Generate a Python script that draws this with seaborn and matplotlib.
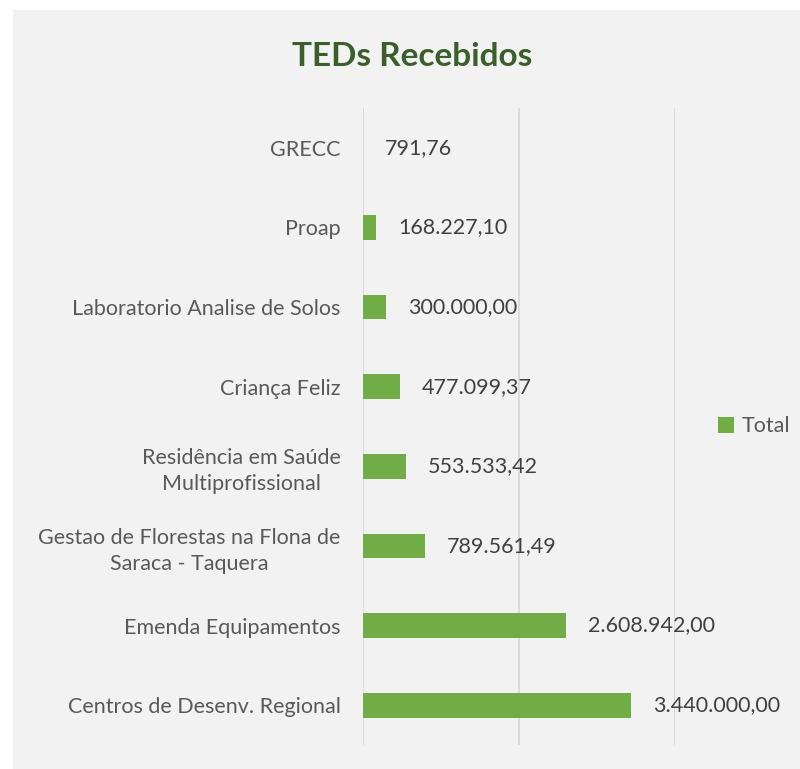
import matplotlib
matplotlib.use("Agg")
import matplotlib.pyplot as plt
import seaborn as sns
import pandas as pd
from matplotlib.patches import Rectangle

# dados do gráfico
categorias = [
    "GRECC",
    "Proap",
    "Laboratorio Analise de Solos",
    "Criança Feliz",
    "Residência em Saúde\nMultiprofissional",
    "Gestao de Florestas na Flona de\nSaraca - Taquera",
    "Emenda Equipamentos",
    "Centros de Desenv. Regional",
]
valores = [791.76, 168227.10, 300000.00, 477099.37, 553533.42,
           789561.49, 2608942.00, 3440000.00]
rotulos = ["791,76", "168.227,10", "300.000,00", "477.099,37", "553.533,42",
           "789.561,49", "2.608.942,00", "3.440.000,00"]
serie = "Total"

VERDE = "#70AD47"
FUNDO = "#F2F2F2"
TEXTO = "#595959"

sns.set_theme(style="white")
plt.rcParams["font.family"] = ["Lato", "DejaVu Sans"]

df = pd.DataFrame({"categoria": categorias, "valor": valores})

fig = plt.figure(figsize=(8, 7.69), dpi=100, facecolor="white")
fig.patches.append(Rectangle((13 / 800, 0), 1, 1 - 10 / 769,
                             transform=fig.transFigure, facecolor=FUNDO,
                             edgecolor="none", zorder=-10))

ax = fig.add_axes([363 / 800, 1 - 745 / 769, (675 - 363) / 800, (745 - 108) / 769])
ax.set_facecolor(FUNDO)

sns.barplot(data=df, y="categoria", x="valor", color=VERDE, saturation=1,
            width=0.31, orient="h", ax=ax, label=serie, linewidth=0, zorder=3)

ax.set_xlim(0, 4000000)
ax.set_ylim(7.5, -0.5)
ax.set_xticks([0, 2000000, 4000000])
ax.xaxis.grid(True, color="#D9D9D9", linewidth=1.3, zorder=0)
ax.tick_params(axis="x", bottom=False, labelbottom=False)
ax.tick_params(axis="y", left=False, pad=10, labelsize=15.5, labelcolor=TEXTO)
for lbl in ax.get_yticklabels():
    lbl.set_multialignment("center")
    lbl.set_linespacing(1.35)
for s in ax.spines.values():
    s.set_visible(False)
ax.set_xlabel("")
ax.set_ylabel("")

for i, (v, r) in enumerate(zip(valores, rotulos)):
    ax.annotate(r, (v, i), xytext=(22, 0), textcoords="offset pixels",
                va="center", ha="left", fontsize=15.5, color="#404040")

ax.legend(loc="center left", bbox_to_anchor=(1.075, 0.5), frameon=False,
          fontsize=15.5, labelcolor=TEXTO, handlelength=0.75, handleheight=0.75,
          handletextpad=0.35)

fig.text(412 / 800, 1 - 56 / 769, "TEDs Recebidos", ha="center", va="center",
         fontsize=24, fontweight="bold", color="#3A5F2A")

fig.savefig("out.png", dpi=100, facecolor="white")
